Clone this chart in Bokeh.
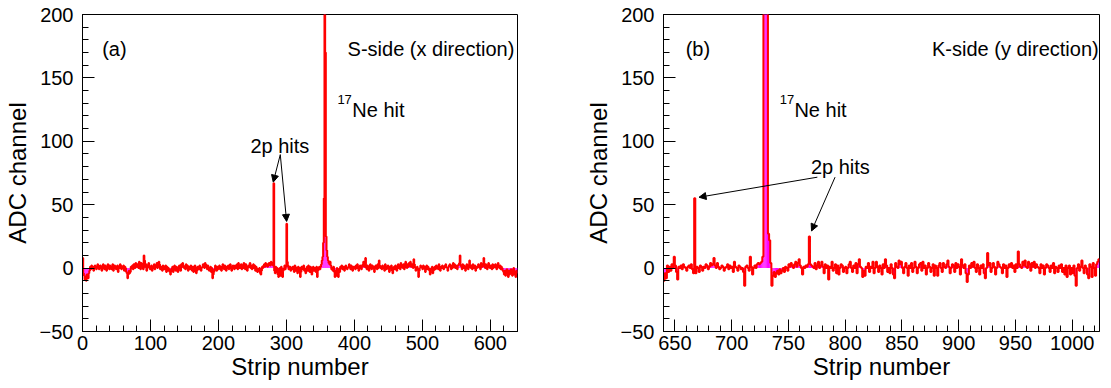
import numpy as np
from bokeh.plotting import figure
from bokeh.layouts import row
from bokeh.models import Label, Arrow, NormalHead, SingleIntervalTicker, ColumnDataSource
from bokeh.embed import file_html
from bokeh.resources import INLINE

# ---------------- data (ADC value per strip) ----------------
s_first_strip = 0
s_adc_000 = [8,-4,-6,-9,-7,-10,-5,-6,-8,-4, -2,1,-1,2,0,1,-2,1,2,0, -1,1,3,2,-1,0,2,1,-2,0, 3,1,-1,2,0,-2,1,3,0,-1]
s_adc_040 = [2,0,-1,1,3,-2,0,2,1,-1, 0,2,-3,1,0,3,2,-1,0,1, 2,-2,1,0,-3,-4,-8,-5,-2,-4, -3,1,0,2,-1,3,1,0,4,2]
s_adc_080 = [1,3,0,5,2,-1,4,2,3,-1, 10,6,1,3,-2,0,2,4,1,-1, 0,2,-2,1,0,3,-1,2,1,4, 0,2,5,3,-1,1,0,-2,2,1]
s_adc_120 = [-1,0,2,-3,1,-2,0,-1,-3,-5, -2,0,1,-3,-1,2,0,-2,1,-1, -3,0,2,1,-2,3,1,4,2,0, 1,-1,3,0,2,-2,1,0,-1,2]
s_adc_160 = [0,-2,1,-3,-1,2,0,-4,-2,1, 0,-1,2,1,-2,0,1,3,2,0, 4,3,1,-1,2,0,-2,-1,1,-3, 0,-8,-5,-3,-1,2,0,-2,1,-1]
s_adc_200 = [0,2,-1,1,-2,0,3,1,-1,2, 0,-2,1,0,2,-1,1,3,0,-2, 1,2,0,-1,2,1,0,3,-1,4, 2,0,1,3,-1,2,0,4,1,-1]
s_adc_240 = [3,1,-2,0,2,1,4,0,2,-1, 1,3,0,2,-2,1,0,-3,-1,-2, 0,-4,-5,-2,1,0,2,3,1,4, 2,3,1,2,4,3,2,5,3,4]
s_adc_280 = [2,67,-2,-4,1,-3,0,-5,-7,-2, 0,-6,1,-3,-7,-2,0,2,-1,1, 35,5,2,-1,0,1,-2,0,-1,1, 0,-3,2,1,-2,0,-4,1,-2,0]
s_adc_320 = [-7,-3,1,-1,0,2,-2,-1,-4,0, 1,-2,2,0,-3,1,-1,-5,0,1, -2,0,-1,-3,1,-7,-2,0,1,-1, 1,3,6,9,20,55,400,170,25,14]
s_adc_360 = [9,6,4,3,5,2,-1,0,-2,1, -3,-7,-2,-6,0,-4,-7,-1,-3,1, 0,2,-1,0,1,-2,0,2,1,-1, 0,1,3,0,-1,2,0,-2,1,0]
s_adc_400 = [1,-1,2,0,3,1,-2,0,2,1, -1,2,3,5,1,2,8,0,-1,2, 0,-2,1,3,0,-1,2,0,1,-3, 0,2,1,-1,3,0,6,2,0,1]
s_adc_440 = [-1,2,0,1,-2,3,0,-1,1,2, 0,-3,1,0,2,-2,-4,0,1,-1, 2,0,-2,1,3,0,2,-1,4,1, 2,0,3,-1,1,5,2,0,3,1]
s_adc_480 = [4,2,5,1,3,2,0,7,3,1, -2,0,1,-1,-7,-2,0,2,1,0, -1,2,0,1,-3,0,2,-1,1,0, -2,-5,-1,0,1,-4,-2,0,1,-1]
s_adc_520 = [2,0,1,-1,3,0,-2,1,0,2, 1,-1,0,2,3,1,0,-2,1,2, 3,1,-1,2,0,4,1,3,0,2, 1,-1,2,3,4,10,2,1,-1,3]
s_adc_560 = [0,2,1,-2,1,3,0,-1,2,6, 1,0,2,-1,3,1,0,2,-2,1, 0,1,3,2,0,-1,4,2,1,3, 8,2,0,3,1,-1,2,4,1,0]
s_adc_600 = [2,1,-1,3,0,2,1,3,0,-1, 2,4,1,0,2,-1,1,0,-2,-3, -5,-2,-6,-3,-1,-4,-7,-2,-5,-3, -1,-4,-6,-2,0,-5,-3,-7,-2,-4]

k_first_strip = 640
k_adc_640 = [-10,-4,-8,2,-3,1,-2,3,0,9, 2,-3,-9,1,0,2,-1,3,1,0, -2,1,2,0,3,-1,-4,55,-4,1, 0,-3,2,1,-2,1,0,3,2,-1]
k_adc_680 = [1,4,2,3,8,2,0,4,1,-1, 0,2,1,-2,0,1,3,-1,2,0, 1,-3,5,1,0,-2,2,1,-1,0, -3,-14,1,2,0,-2,9,1,-5,0]
k_adc_720 = [2,0,3,4,3,4,5,9,400,400, 400,400,27,22,4,-14,-6,-3,-7,-4, -2,-5,-1,-4,-2,0,-3,1,0,-2, 3,1,4,2,0,3,5,1,4,7]
k_adc_760 = [2,0,-5,1,0,2,1,3,25,3, 2,1,0,4,-1,2,5,0,2,5, 1,-4,3,0,2,-9,1,0,5,-2, 0,3,-4,2,-5,0,3,2,-3,0]
k_adc_800 = [1,-4,0,3,5,0,-3,2,0,4, -4,3,7,1,0,-7,-2,-6,1,0, 4,-3,1,0,5,-4,0,5,1,-3, 2,0,-5,3,0,7,2,-3,0,-4]
k_adc_840 = [3,0,-5,-8,4,1,0,6,3,5, 0,-4,1,4,0,-6,2,0,4,-3, 0,5,1,-4,0,3,4,-2,5,0, 2,-5,0,4,1,-3,0,3,-6,2]
k_adc_880 = [0,-6,2,4,0,-3,4,1,0,3, 6,1,-4,0,3,2,-3,4,0,3, 1,-5,7,2,0,3,-4,-11,-5,2, 0,4,1,5,0,-3,3,0,-5,2]
k_adc_920 = [0,3,-4,-8,0,12,2,4,-3,0, 4,1,-5,0,5,3,1,0,-4,3, 0,2,-7,0,3,1,4,0,2,-3, 3,0,13,3,1,0,5,2,6,1]
k_adc_960 = [0,5,3,-2,4,1,5,0,3,1, 0,-4,3,0,2,-5,0,3,2,0, -3,2,0,4,-4,1,0,-3,2,0, 3,-3,0,-5,2,-7,0,2,-5,0]
k_adc_1000 = [-4,2,-6,-14,0,3,-2,1,6,0, -4,2,0,-5,-8,3,1,-7,4,0, -6,3,5,7]

s_adc = (s_adc_000 + s_adc_040 + s_adc_080 + s_adc_120 + s_adc_160 + s_adc_200 + s_adc_240
         + s_adc_280 + s_adc_320 + s_adc_360 + s_adc_400 + s_adc_440 + s_adc_480 + s_adc_520
         + s_adc_560 + s_adc_600)
k_adc = (k_adc_640 + k_adc_680 + k_adc_720 + k_adc_760 + k_adc_800 + k_adc_840 + k_adc_880
         + k_adc_920 + k_adc_960 + k_adc_1000)

y_range = (-50, 200)
x_title = "Strip number"
y_title = "ADC channel"

FONT = "Liberation Sans"


def make_panel(first, adc, x_range, x_interval, width, border_left, border_right,
               tag, tag_x, side, side_x, ne_x, ne_x2, hits_x, hits_y, arrows):
    p = figure(width=width, height=388, x_range=x_range, y_range=y_range,
               output_backend="svg", toolbar_location=None,
               min_border_left=border_left, min_border_right=border_right,
               min_border_top=14, min_border_bottom=57)
    p.xgrid.visible = False
    p.ygrid.visible = False
    p.outline_line_color = "black"
    p.outline_line_width = 1
    p.outline_line_alpha = 1
    p.background_fill_color = "white"
    p.border_fill_color = "white"

    vals = np.array(adc, dtype=float)
    left = first + np.arange(len(vals))
    src = ColumnDataSource(dict(left=left, right=left + 1, top=vals, bottom=np.zeros(len(vals))))
    p.quad(left="left", right="right", top="top", bottom="bottom", source=src,
           fill_color="#ff00ff", line_color=None)
    edges = np.append(left, left[-1] + 1)
    steps = np.append(vals, vals[-1])
    p.step(x=edges, y=steps, mode="after", line_color="#ff0000", line_width=2)

    p.xaxis.ticker = SingleIntervalTicker(interval=x_interval, num_minor_ticks=5)
    p.yaxis.ticker = SingleIntervalTicker(interval=50, num_minor_ticks=5)
    p.yaxis.major_label_overrides = {-50: "\u221250"}
    for ax in (p.xaxis[0], p.yaxis[0]):
        ax.major_tick_in = 12
        ax.major_tick_out = 0
        ax.minor_tick_in = 6
        ax.minor_tick_out = 0
        ax.major_tick_line_color = "black"
        ax.minor_tick_line_color = "black"
        ax.axis_line_color = "black"
        ax.major_label_text_font = FONT
        ax.major_label_text_font_size = "20px"
        ax.major_label_text_color = "black"
        ax.axis_label_text_font = FONT
        ax.axis_label_text_font_size = "24px"
        ax.axis_label_text_font_style = "normal"
        ax.axis_label_text_color = "black"
    p.xaxis.axis_label = x_title
    p.yaxis.axis_label = y_title
    p.xaxis.major_label_standoff = 4
    p.xaxis.axis_label_standoff = 0
    p.yaxis.major_label_standoff = 9
    p.yaxis.axis_label_standoff = 6

    def lab(text, x, y, size="20px", align="left"):
        p.add_layout(Label(x=x, y=y, text=text, text_font=FONT, text_font_size=size,
                           text_align=align, text_baseline="alphabetic", text_color="black"))

    lab(tag, tag_x, 173)
    lab(side, side_x, 173, align="right")
    lab("17", ne_x, 133, size="13px")
    lab("Ne hit", ne_x2, 124.8)
    lab("2p hits", hits_x, hits_y)
    for (xs, ys, xe, ye) in arrows:
        p.add_layout(Arrow(x_start=xs, y_start=ys, x_end=xe, y_end=ye, line_color="black",
                           line_width=1,
                           end=NormalHead(size=7, fill_color="black", line_color="black",
                                          line_width=1)))
    return p


p1 = make_panel(s_first_strip, s_adc, (0, 640), 100, 555, 82, 38,
                "(a)", 29, "S-side (x direction)", 635.3, 375, 397, 247, 96,
                [(291, 89.5, 280.6, 67.8), (291, 89.5, 300.3, 36.8)])
p2 = make_panel(k_first_strip, k_adc, (640, 1024), 50, 556, 108, 12,
                "(b)", 659.5, "K-side (y direction)", 1023.3, 742.3, 755.3, 769.8, 79.6,
                [(775.5, 71.7, 671.3, 55.9), (791.1, 71.7, 770.4, 29.3)])

layout = row(p1, p2)
open("out.html", "w").write(file_html(layout, INLINE))
